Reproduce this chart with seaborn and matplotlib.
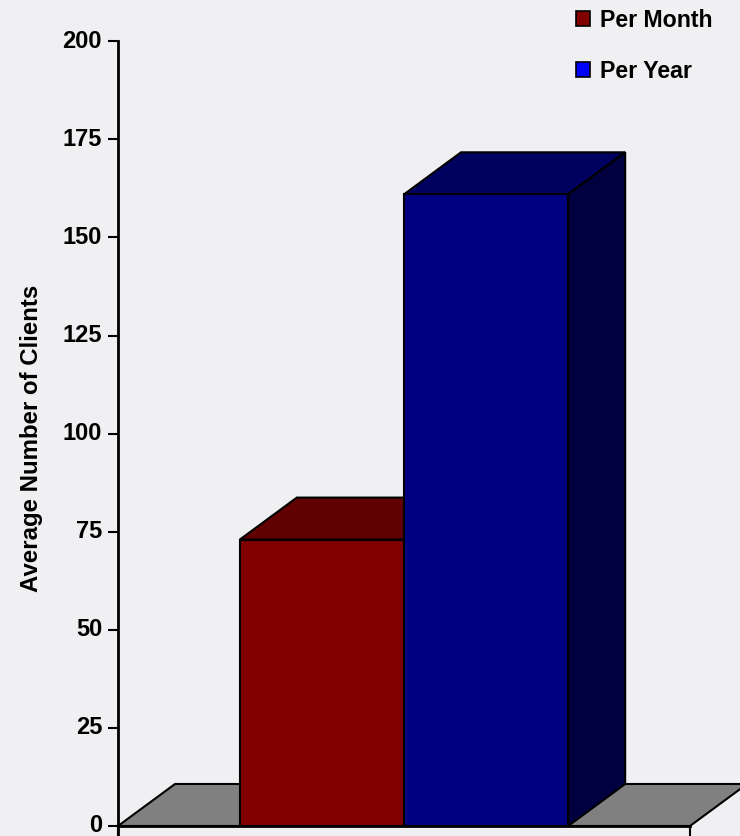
import numpy as np
import pandas as pd
import matplotlib
matplotlib.use("Agg")
import matplotlib.pyplot as plt
from matplotlib.patches import Polygon, Patch
import seaborn as sns

# Chart data
series = ["Per Month", "Per Year"]
clients = [73, 161]
y_ticks = [0, 25, 50, 75, 100, 125, 150, 175, 200]

# Face shading for the 3D-style bars
front_colors = ["#800000", "#000080"]
top_colors = ["#600000", "#000060"]
side_colors = ["#400000", "#000040"]
legend_colors = ["#800000", "#0000ff"]

sns.set_theme(style="white")
plt.rcParams["font.family"] = ["Liberation Sans", "DejaVu Sans"]
plt.rcParams["font.weight"] = "bold"
for key in ["text.color", "axes.labelcolor", "xtick.color", "ytick.color"]:
    plt.rcParams[key] = "black"

bg = "#f0f0f2"
W, H = 740, 836
fig = plt.figure(figsize=(W / 100, H / 100), dpi=100, facecolor=bg)
ax = fig.add_axes([118 / W, 0, 572 / W, 1 - 41.3 / H])
ax.set_facecolor(bg)

df = pd.DataFrame({"group": [""] * len(series), "series": series, "clients": clients})
sns.barplot(data=df, x="group", y="clients", hue="series", hue_order=series,
            palette=front_colors, width=0.574, saturation=1, edgecolor="black",
            linewidth=1.5, legend=False, ax=ax)
bars = list(ax.patches)

ax.set_xlim(-0.5, 0.5)
ax.set_ylim(-2.55, 200)

# Depth of the extrusion, given in pixels and converted to data units
ox, oy = ax.transData.transform((0, 0))
dx, dy = ax.transData.inverted().transform((ox + 57, oy + 42))

x_lo, x_hi = ax.get_xlim()
floor = Polygon([(x_lo, 0), (x_hi, 0), (x_hi + dx, dy), (x_lo + dx, dy)],
                closed=True, facecolor="#808080", edgecolor="black",
                linewidth=1.5, zorder=1, clip_on=False)
ax.add_patch(floor)

z = 2
for bar, tc, sc in zip(bars, top_colors, side_colors):
    x0, w, h = bar.get_x(), bar.get_width(), bar.get_height()
    top = Polygon([(x0, h), (x0 + w, h), (x0 + w + dx, h + dy), (x0 + dx, h + dy)],
                  closed=True, facecolor=tc, edgecolor="black", linewidth=1.5,
                  zorder=z, clip_on=False)
    side = Polygon([(x0 + w, 0), (x0 + w + dx, dy), (x0 + w + dx, h + dy), (x0 + w, h)],
                   closed=True, facecolor=sc, edgecolor="black", linewidth=1.5,
                   zorder=z, clip_on=False)
    ax.add_patch(top)
    ax.add_patch(side)
    bar.set_zorder(z + 1)
    z += 2

# Axes styling
for s in ["top", "right"]:
    ax.spines[s].set_visible(False)
ax.spines["left"].set_linewidth(2)
ax.spines["left"].set_color("black")
ax.spines["bottom"].set_position(("data", 0))
ax.spines["bottom"].set_linewidth(2)
ax.spines["bottom"].set_color("black")

ax.set_yticks(y_ticks)
ax.set_yticklabels([str(t) for t in y_ticks], fontsize=17, fontweight="bold",
                   va="center")
ax.tick_params(axis="y", direction="out", length=7.2, width=1.5, color="black",
               pad=4.3, left=True)
ax.set_xticks([x_lo, x_hi])
ax.set_xticklabels(["", ""])
ax.tick_params(axis="x", direction="out", length=8, width=1.5, color="black",
               bottom=True)
ax.set_xlabel("")
ax.set_ylabel("Average Number of Clients", fontsize=17.3, fontweight="bold",
              labelpad=14, color="black")

handles = [Patch(facecolor=c, edgecolor="black", linewidth=1.2) for c in legend_colors]
fig.legend(handles, series, loc="upper left", bbox_to_anchor=(576 / W, 1 - 9 / H),
           frameon=False, prop={"weight": "bold", "size": 16.7},
           handlelength=0.62, handleheight=0.62, handletextpad=0.4,
           labelspacing=1.2, borderpad=0, borderaxespad=0)

fig.savefig("out.png", dpi=100, facecolor=bg)
